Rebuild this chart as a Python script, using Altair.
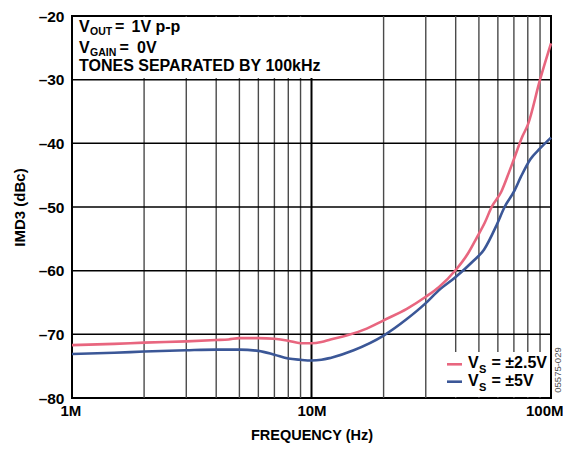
import altair as alt
import pandas as pd

# ---- data ----
freq_25 = [1, 1.5, 2, 3, 4, 4.5, 5, 6, 7, 8, 9, 10, 11, 12, 14, 17, 20, 25, 30, 34, 40, 45, 49, 53, 56.5, 62, 67, 70, 76, 80, 90, 100]
imd_25 = [-71.7, -71.5, -71.3, -71.1, -70.9, -70.8, -70.6, -70.6, -70.7, -71.0, -71.4, -71.4, -71.2, -70.8, -70.2, -69.1, -67.8, -66.0, -64.1, -62.6, -59.9, -57.3, -54.8, -52.4, -50.0, -47.6, -44.4, -42.5, -38.9, -37.1, -30.0, -24.3]

freq_5 = [1, 1.5, 2, 3, 4, 5, 6, 7, 8, 9, 10, 11, 12, 15, 20, 25, 30, 34, 40, 47, 52.5, 59.5, 64, 70, 75, 82, 90, 100]
imd_5 = [-73.1, -72.9, -72.7, -72.5, -72.4, -72.4, -72.6, -73.2, -73.8, -74.0, -74.1, -74.0, -73.7, -72.5, -70.2, -67.6, -65.1, -63.1, -61.0, -58.6, -56.7, -52.7, -50.0, -47.6, -45.2, -42.5, -40.8, -39.1]

series_names = ["VS = ±2.5V", "VS = ±5V"]
series_colors = ["#E8667F", "#3B5797"]

x_ticks = [1e6, 1e7, 1e8]
x_tick_labels = ["1M", "10M", "100M"]
y_ticks = [-80, -70, -60, -50, -40, -30, -20]
minor_x = [2e6, 3e6, 4e6, 5e6, 6e6, 7e6, 8e6, 9e6, 2e7, 3e7, 4e7, 5e7, 6e7, 7e7, 8e7, 9e7]
major_x = [1e7]
grid_y = [-70, -60, -50, -40, -30]

FONT = "Liberation Sans"

rows = []
for f, v in zip(freq_25, imd_25):
    rows.append({"f": f * 1e6, "v": v, "s": series_names[0]})
for f, v in zip(freq_5, imd_5):
    rows.append({"f": f * 1e6, "v": v, "s": series_names[1]})
df = pd.DataFrame(rows)

W, H = 479, 382
xscale = alt.Scale(type="log", domain=[1e6, 1e8], nice=False)
yscale = alt.Scale(domain=[-80, -20], nice=False, zero=False)

label_expr = " : ".join(
    f"datum.value == {t} ? '{l}'" for t, l in zip(x_ticks[:-1], x_tick_labels[:-1])
) + f" : '{x_tick_labels[-1]}'"

minor = alt.Chart(pd.DataFrame({"x": minor_x})).mark_rule(color="#4a4a4a", strokeWidth=1.4).encode(
    x=alt.X("x:Q", scale=xscale,
            axis=alt.Axis(values=x_ticks, labelExpr=label_expr, title="FREQUENCY (Hz)",
                          grid=False, ticks=False, domain=False, labelFont=FONT, labelFontSize=15,
                          labelFontWeight="bold", labelColor="black", labelPadding=5,
                          titleFont=FONT, titleFontSize=14.5, titleFontWeight="bold",
                          titleColor="black", titlePadding=10, labelFlush=True,
                          labelFlushOffset=12))
)
major = alt.Chart(pd.DataFrame({"x": major_x})).mark_rule(color="black", strokeWidth=2).encode(
    x=alt.X("x:Q", scale=xscale)
)
hgrid = alt.Chart(pd.DataFrame({"y": grid_y})).mark_rule(color="black", strokeWidth=1.5).encode(
    y=alt.Y("y:Q", scale=yscale,
            axis=alt.Axis(values=y_ticks, labelExpr="datum.value == 0 ? '0' : '\u2013' + abs(datum.value)",
                          title="IMD3 (dBc)", grid=False, ticks=False, domain=False,
                          labelFont=FONT, labelFontSize=15.5, labelFontWeight="bold",
                          labelColor="black", labelPadding=8,
                          titleFont=FONT, titleFontSize=15, titleFontWeight="bold",
                          titleColor="black", titlePadding=11))
)

# white boxes behind annotation and legend
box1 = alt.Chart(pd.DataFrame({"a": [0]})).mark_rect(color="white").encode(
    x=alt.value(1), x2=alt.value(254), y=alt.value(1), y2=alt.value(62)
)
box2 = alt.Chart(pd.DataFrame({"a": [0]})).mark_rect(color="white").encode(
    x=alt.value(368), x2=alt.value(478), y=alt.value(336), y2=alt.value(381)
)

lines = alt.Chart(df).mark_line(strokeWidth=2.6, interpolate="monotone").encode(
    x=alt.X("f:Q", scale=xscale),
    y=alt.Y("v:Q", scale=yscale),
    color=alt.Color("s:N", scale=alt.Scale(domain=series_names, range=series_colors), legend=None),
)

def txt(s, x, y, size=16, weight="bold", color="black", angle=0, align="left", baseline="alphabetic"):
    return alt.Chart(pd.DataFrame({"t": [s]})).mark_text(
        font=FONT, fontSize=size, fontWeight=weight, color=color, align=align,
        baseline=baseline, angle=angle
    ).encode(text="t:N", x=alt.value(x), y=alt.value(y))

annot = [
    txt("V", 7, 15.7), txt("OUT", 18, 18.8, size=10.5), txt("=", 43, 15.7), txt("1V p-p", 59.5, 15.7),
    txt("V", 7, 37.3), txt("GAIN", 18, 39.8, size=10.5), txt("=", 47.5, 37.3), txt("0V", 65, 37.3),
    txt("TONES SEPARATED BY 100kHz", 7, 54.7),
    txt("V", 396, 352.3), txt("S", 407, 357.3, size=11), txt("= ±2.5V", 419.5, 352.3),
    txt("V", 396, 370), txt("S", 407, 375, size=11), txt("= ±5V", 419.5, 370),
    txt("05575-029", 486, 354, size=9.5, weight="normal", color="#555555", angle=270,
        align="center", baseline="middle"),
]

leg_rules = [
    alt.Chart(pd.DataFrame({"a": [0]})).mark_rule(color=series_colors[0], strokeWidth=2.6).encode(
        x=alt.value(375), x2=alt.value(390), y=alt.value(348.3)),
    alt.Chart(pd.DataFrame({"a": [0]})).mark_rule(color=series_colors[1], strokeWidth=2.6).encode(
        x=alt.value(375), x2=alt.value(390), y=alt.value(365.7)),
]

chart = alt.layer(minor, major, hgrid, box1, box2, lines, *leg_rules, *annot).properties(
    width=W, height=H, autosize="none",
    padding={"left": 64, "top": 8, "right": 12, "bottom": 47},
).configure_view(stroke="black", strokeWidth=2).resolve_scale(color="independent")

chart.save("out.html", embed_options={"renderer": "svg", "actions": False})
